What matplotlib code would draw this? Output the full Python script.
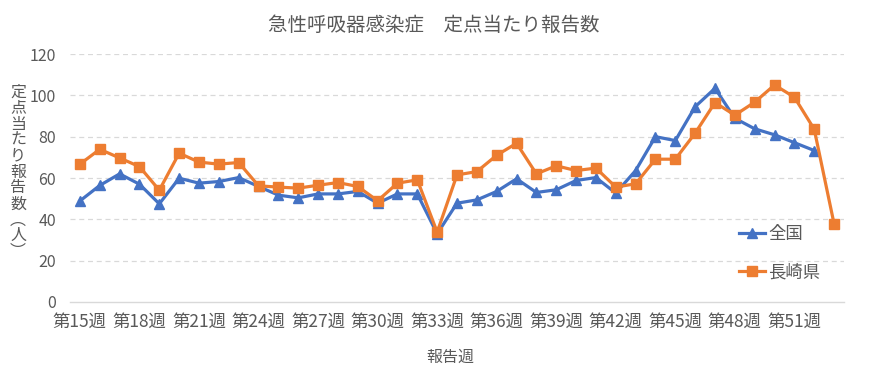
import matplotlib
matplotlib.use("Agg")
import matplotlib.pyplot as plt

plt.rcParams['font.family'] = ['Noto Sans CJK JP', 'DejaVu Sans']

weeks = list(range(15, 54))
zenkoku = [48.9, 56.4, 62.0, 57.0, 47.5, 59.9, 57.5, 58.3, 60.2, 55.9,
           51.7, 50.4, 52.3, 52.3, 53.5, 47.8, 52.3, 52.3, 33.0, 47.8,
           49.4, 53.5, 59.6, 53.0, 54.3, 58.8, 60.2, 52.7, 63.6, 80.0,
           78.1, 94.5, 103.4, 88.9, 83.8, 80.9, 77.1, 73.3, None]
nagasaki = [66.7, 73.9, 69.7, 65.5, 54.1, 72.0, 67.7, 66.7, 67.5, 56.2,
            55.6, 55.1, 56.5, 57.8, 55.9, 49.0, 57.5, 59.1, 33.8, 61.5,
            63.1, 71.0, 76.8, 62.0, 65.9, 63.6, 64.8, 55.6, 57.2, 69.1,
            69.1, 81.7, 96.5, 90.4, 96.7, 105.0, 99.1, 83.6, 37.8]
tick_weeks = list(range(15, 52, 3))
tick_labels = [f"第{w}週" for w in tick_weeks]
title = "急性呼吸器感染症　定点当たり報告数"
xlabel = "報告週"
ylabel = "定点当たり報告数（人）"

blue = "#4472C4"
orange = "#ED7D31"
gray = "#595959"

fig = plt.figure(figsize=(8.69, 3.84), dpi=100)
ax = fig.add_axes([70/869, 1-302/384, (844-70)/869, (302-54)/384])

zx = [w for w, v in zip(weeks, zenkoku) if v is not None]
zy = [v for v in zenkoku if v is not None]
ax.plot(zx, zy, color=blue, lw=2.3, marker='^', ms=7.5, label="全国", zorder=3)
ax.plot(weeks, nagasaki, color=orange, lw=2.3, marker='s', ms=7, label="長崎県", zorder=3)

ax.set_xlim(14.5, 53.5)
ax.set_ylim(0, 120)
ax.set_yticks(range(0, 121, 20))
ax.set_xticks(tick_weeks)
ax.set_xticklabels(tick_labels)
for y in range(20, 121, 20):
    ax.axhline(y, color="#D9D9D9", lw=0.9, ls=(0, (4, 3)), zorder=1)
for s in ["top", "right", "left"]:
    ax.spines[s].set_visible(False)
ax.spines["bottom"].set_color("#D9D9D9")
ax.spines["bottom"].set_linewidth(1.0)
ax.tick_params(axis='both', length=0, colors=gray)
ax.tick_params(axis='x', pad=8, labelsize=12.5)
ax.tick_params(axis='y', pad=10, labelsize=11.5)

fig.text(434/869, 1-25/384, title, ha='center', va='center', fontsize=14, color=gray)
fig.text(450/869, 1-357/384, xlabel, ha='center', va='center', fontsize=11.5, color=gray)
vert = "\n".join(list("定点当たり報告数") + ["︵", "人", "︶"])
fig.text(18/869, 1-172/384, vert, ha='center', va='center', fontsize=11.5,
         color=gray, linespacing=0.92)

leg = ax.legend(loc='center left', frameon=False,
                fontsize=12.5, labelcolor=gray, handlelength=1.5, labelspacing=1.15,
                borderaxespad=0, handletextpad=0.2)
leg.set_bbox_to_anchor((732/869, 1-253/384), transform=fig.transFigure)

fig.savefig("out.png", dpi=100)
